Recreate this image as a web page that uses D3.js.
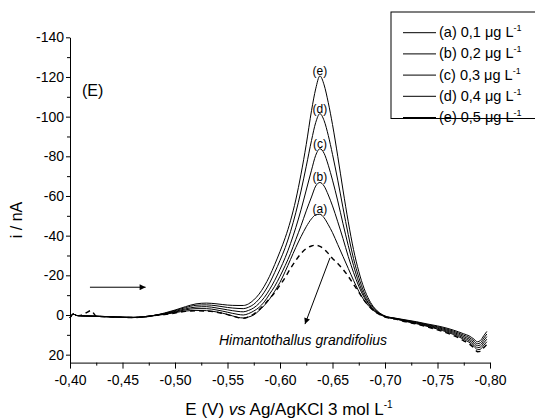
<!DOCTYPE html>
<html><head><meta charset="utf-8">
<script src="https://cdn.jsdelivr.net/npm/d3@7"></script>
<style>
body{margin:0;background:#fff;}
svg text{font-family:"Liberation Sans",Arial,sans-serif;fill:#000;}
</style>
</head><body>
<svg id="chart" width="535" height="419"></svg>
<script>
// ---------- data ----------
const potential = [-0.400,-0.403,-0.406,-0.410,-0.415,-0.420,-0.425,-0.430,-0.440,-0.450,-0.460,-0.470,
 -0.480,-0.490,-0.500,-0.510,-0.520,-0.530,-0.540,-0.550,-0.560,-0.565,
 -0.570,-0.575,-0.580,-0.585,-0.590,-0.595,-0.600,-0.605,-0.610,-0.615,-0.620,-0.625,-0.630,-0.634,-0.638,
 -0.642,-0.646,-0.650,-0.655,-0.660,-0.665,-0.670,-0.675,-0.680,-0.685,-0.690,-0.695,-0.700,
 -0.710,-0.720,-0.730,-0.740,-0.750,-0.760,-0.770,-0.775,-0.780,-0.785,-0.788,-0.791,-0.794,-0.797];

const currentA = [1.5,-0.5,0.2,0.4,0.5,0.6,0.7,0.8,1.0,1.2,1.3,1.0,
 0.3,-0.3,-1.2,-2.0,-2.3,-2.2,-1.5,-0.3,1.2,1.5,
 1.0,0.0,-2.2,-4.8,-8.0,-12.0,-16.5,-22.0,-28.0,-34.0,-39.5,-44.5,-48.5,-50.5,-50.8,
 -49.0,-45.5,-41.5,-35.5,-29.5,-23.5,-17.5,-12.0,-7.5,-4.2,-1.8,-0.3,0.9,
 2.0,3.3,4.4,5.7,7.1,8.8,10.9,12.3,13.7,15.9,17.5,17.2,15.3,13.5];

const currentB = [1.5,-0.5,0.2,0.4,0.5,0.6,0.7,0.8,1.0,1.2,1.3,1.0,
 0.3,-0.5,-1.5,-2.6,-3.2,-3.2,-2.5,-1.4,-0.3,0.0,
 -0.7,-2.0,-3.8,-6.6,-10.5,-14.5,-19.5,-25.0,-31.0,-38.0,-45.0,-52.5,-59.5,-65.0,-66.8,
 -65.0,-60.5,-55.0,-47.0,-38.5,-29.5,-21.5,-14.5,-9.0,-5.0,-2.2,-0.5,0.8,
 1.9,3.1,4.1,5.4,6.7,8.3,10.3,11.6,12.9,15.0,16.5,16.1,14.1,12.2];

const currentC = [1.5,-0.5,0.2,0.4,0.5,0.6,0.6,0.7,0.9,1.1,1.2,1.0,
 0.3,-0.7,-1.8,-3.1,-4.0,-4.2,-3.5,-2.6,-1.8,-1.6,
 -2.3,-3.6,-5.8,-8.8,-12.8,-17.5,-23.0,-29.0,-36.0,-44.0,-53.0,-63.0,-73.0,-80.5,-83.8,
 -81.5,-75.5,-68.0,-57.5,-46.0,-35.0,-25.0,-16.5,-10.0,-5.5,-2.5,-0.6,0.7,
 1.8,2.9,3.9,5.1,6.3,7.8,9.7,10.9,12.1,14.1,15.5,15.0,12.9,10.9];

const currentD = [1.5,-0.5,0.2,0.4,0.5,0.5,0.6,0.7,0.9,1.1,1.2,0.9,
 0.2,-0.8,-2.2,-3.7,-4.9,-5.1,-4.6,-3.8,-3.3,-3.2,
 -3.9,-5.4,-8.0,-11.5,-16.0,-21.5,-27.5,-34.0,-42.0,-51.5,-62.5,-75.0,-88.0,-97.0,-101.5,
 -98.0,-90.5,-81.0,-68.0,-54.0,-40.5,-28.5,-19.0,-11.5,-6.5,-3.0,-0.8,0.6,
 1.7,2.7,3.6,4.8,5.9,7.3,9.1,10.2,11.3,13.2,14.5,13.9,11.7,9.6];

const currentE = [1.5,-0.5,0.2,0.4,0.5,0.5,0.6,0.7,0.9,1.1,1.2,0.9,
 0.2,-1.0,-2.5,-4.2,-5.6,-6.0,-5.6,-5.0,-4.8,-4.8,
 -5.6,-7.6,-10.5,-14.5,-19.5,-25.5,-32.0,-39.0,-47.5,-58.0,-71.0,-86.0,-103.0,-114.0,-120.5,
 -116.0,-107.0,-96.0,-80.0,-63.0,-47.0,-33.0,-22.0,-13.5,-7.5,-3.5,-1.0,0.5,
 1.6,2.5,3.4,4.5,5.5,6.8,8.5,9.5,10.5,12.3,13.5,12.8,10.5,8.3];

const currentSample = [1.5,-0.3,0.3,0.2,-1.0,-2.2,0.6,0.8,1.0,1.2,1.3,1.0,
 0.3,-0.2,-1.0,-1.8,-2.1,-2.0,-1.4,-0.2,1.3,1.7,
 1.0,-0.5,-2.6,-5.2,-8.2,-11.3,-15.0,-19.0,-23.5,-27.5,-31.0,-33.5,-34.8,-35.2,-34.6,
 -33.2,-31.0,-28.5,-26.0,-23.0,-19.5,-15.5,-11.5,-7.5,-4.3,-1.8,-0.2,1.0,
 2.1,3.5,4.6,6.0,7.5,9.3,11.5,13.0,14.5,16.8,18.5,18.3,16.5,14.8];

const seriesTags = ["(a)","(b)","(c)","(d)","(e)"];
const legendLabels = ["(a) 0,1 \u03bcg L","(b) 0,2 \u03bcg L","(c) 0,3 \u03bcg L","(d) 0,4 \u03bcg L","(e) 0,5 \u03bcg L"];
const xTicks = [-0.40,-0.45,-0.50,-0.55,-0.60,-0.65,-0.70,-0.75,-0.80];
const yTicks = [-140,-120,-100,-80,-60,-40,-20,0,20];
const sampleName = "Himantothallus grandifolius";

// ---------- chart ----------
const svg = d3.select("#chart");
const FONT = '"Liberation Sans", Arial, sans-serif';

const x = d3.scaleLinear().domain([-0.40,-0.80]).range([70,490]);
const y = d3.scaleLinear().domain([24,-140]).range([362.6,37.3]);

const defs = svg.append("defs");
defs.append("marker").attr("id","arrowHead")
  .attr("viewBox","0 0 10 10").attr("refX",10).attr("refY",5)
  .attr("markerWidth",9).attr("markerHeight",6).attr("markerUnits","userSpaceOnUse")
  .attr("orient","auto")
  .append("path").attr("d","M0,0 L10,5 L0,10 Z").attr("fill","#000");

// minor ticks
const xMinor = d3.pairs(xTicks).map(p => (p[0]+p[1])/2);
const yMinor = d3.pairs(yTicks).map(p => (p[0]+p[1])/2);

const gxMinor = svg.append("g").attr("transform",`translate(0,${y(24)})`)
  .call(d3.axisBottom(x).tickValues(xMinor).tickSize(3).tickSizeOuter(0).tickFormat(""));
const gyMinor = svg.append("g").attr("transform",`translate(${x(-0.40)},0)`)
  .call(d3.axisLeft(y).tickValues(yMinor).tickSize(3).tickSizeOuter(0).tickFormat(""));
[gxMinor,gyMinor].forEach(g=>g.select(".domain").remove());

const gx = svg.append("g").attr("transform",`translate(0,${y(24)})`)
  .call(d3.axisBottom(x).tickValues(xTicks).tickSize(6).tickSizeOuter(0).tickPadding(6)
    .tickFormat(v => v.toFixed(2).replace(".",",")));
const gy = svg.append("g").attr("transform",`translate(${x(-0.40)},0)`)
  .call(d3.axisLeft(y).tickValues(yTicks).tickSize(4).tickSizeOuter(0).tickPadding(2)
    .tickFormat(v => String(v)));

[gx,gy,gxMinor,gyMinor].forEach(g=>{
  g.attr("font-family",FONT).attr("font-size",14);
  g.selectAll("line,path").attr("stroke","#000").attr("stroke-width",1);
  g.selectAll("text").attr("fill","#000");
});

// axis titles
const xt = svg.append("text").attr("x",289).attr("y",415).attr("text-anchor","middle")
  .attr("font-size",17);
xt.append("tspan").text("E (V) ");
xt.append("tspan").attr("font-style","italic").text("vs");
xt.append("tspan").text(" Ag/AgKCl 3 mol L");
xt.append("tspan").attr("font-size",10).attr("dy",-7).text("-1");

svg.append("text").attr("transform","translate(22,220) rotate(-90)")
  .attr("text-anchor","middle").attr("font-size",16).text("i / nA");

// series
const line = d3.line().x((d,i)=>x(potential[i])).y(d=>y(d)).curve(d3.curveMonotoneX);
const solidSeries = [currentA,currentB,currentC,currentD,currentE];

svg.append("path").datum(currentSample).attr("d",line)
  .attr("fill","none").attr("stroke","#000").attr("stroke-width",1.4)
  .attr("stroke-dasharray","5,4");

svg.selectAll("path.curve").data(solidSeries).join("path").attr("class","curve")
  .attr("d",line).attr("fill","none").attr("stroke","#000").attr("stroke-width",1);

// peak labels
solidSeries.forEach((vals,k)=>{
  const idx = d3.minIndex(vals);
  svg.append("text").attr("x",x(potential[idx])).attr("y",y(vals[idx])-1)
    .attr("text-anchor","middle").attr("font-size",12).text(seriesTags[k]);
});

// (E) label
svg.append("text").attr("x",82).attr("y",96).attr("font-size",16).text("(E)");

// horizontal scan-direction arrow
svg.append("line").attr("x1",x(-0.419)).attr("y1",y(-14)).attr("x2",x(-0.472)).attr("y2",y(-14))
  .attr("stroke","#000").attr("stroke-width",1).attr("marker-end","url(#arrowHead)");

// sample arrow
svg.append("line").attr("x1",x(-0.6476)).attr("y1",y(-28.8)).attr("x2",x(-0.6238)).attr("y2",y(4.6))
  .attr("stroke","#000").attr("stroke-width",1).attr("marker-end","url(#arrowHead)");

svg.append("text").attr("x",x(-0.5419)).attr("y",y(15.2)).attr("font-size",14)
  .attr("font-style","italic").text(sampleName);

// legend
const lg = svg.append("g");
lg.append("rect").attr("x",391).attr("y",12).attr("width",170).attr("height",106.5)
  .attr("fill","#fff").attr("stroke","#000").attr("stroke-width",1);
legendLabels.forEach((lab,k)=>{
  const ly = 32.7 + k*21.2;
  lg.append("line").attr("x1",403).attr("x2",436).attr("y1",ly).attr("y2",ly)
    .attr("stroke","#000").attr("stroke-width",1);
  const t = lg.append("text").attr("x",439).attr("y",ly+4.5).attr("font-size",14.5);
  t.append("tspan").text(lab);
  t.append("tspan").attr("font-size",9).attr("dy",-6).text("-1");
});
</script>
</body></html>
